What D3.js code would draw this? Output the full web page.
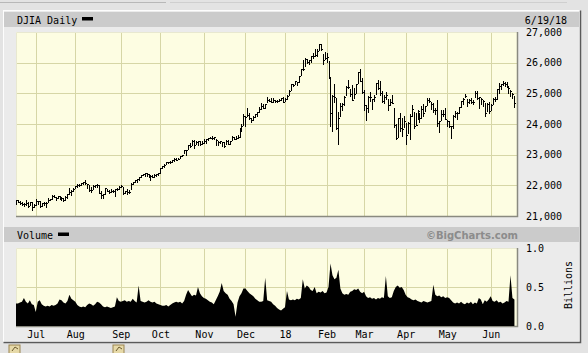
<!DOCTYPE html>
<html><head><meta charset="utf-8">
<script src="https://cdn.jsdelivr.net/npm/d3@7/dist/d3.min.js"></script>
<style>
html,body{margin:0;padding:0;background:#e3e3e3;}
svg{display:block;}
text{font-family:"DejaVu Sans Mono",monospace;font-size:10px;fill:#000;}
</style></head>
<body>
<svg id="c" width="588" height="353"></svg>
<script>
// ---- DATA ----
const monthLabels = ["Jul","Aug","Sep","Oct","Nov","Dec","18","Feb","Mar","Apr","May","Jun"];
const monthStart  = [10,30,53,73,95,116,136,157,176,197,218,240]; // trading-day index of month start
const priceTicks  = [21000,22000,23000,24000,25000,26000,27000];
const volTicks    = [0,0.5,1.0];

const close = [
 21528,21467,21410,21397,21395,21409,21311,21454,21288,21350,
 21479,21478,21320,21414,21409,21409,21532,21553,21638,21630,21575,21641,21612,21580,21513,21613,21711,21796,21830,21891,
 21964,22016,22026,22092,22118,22085,22048,21844,21858,21993,21999,22025,21750,21675,21703,21899,21812,21783,21814,21808,21865,21892,21948,
 21988,21753,21807,21784,21798,22057,22118,22158,22203,22268,22331,22370,22412,22359,22349,22296,22284,22340,22381,22405,
 22557,22641,22661,22775,22773,22761,22830,22872,22841,22871,22957,22997,23158,23163,23329,23274,23441,23329,23400,23434,23348,23377,
 23436,23516,23539,23548,23557,23563,23462,23422,23439,23409,23271,23458,23358,23430,23590,23526,23558,23580,23836,23940,24272,
 24231,24290,24180,24140,24212,24329,24386,24504,24585,24509,24652,24792,24754,24726,24782,24754,24746,24774,24838,24719,
 24824,24922,25075,25296,25283,25386,25369,25575,25803,25792,26116,26017,26071,26214,26210,26252,26392,26617,26439,26076,26149,
 26186,25521,24346,24913,24893,23860,24191,24601,24640,24893,25200,25219,24965,24798,24963,25310,25709,25410,25029,
 24609,24538,24874,24884,24801,24895,25336,25179,25008,24759,24874,24947,24611,24727,24683,23958,23533,24203,23857,23849,24103,
 23644,24034,24264,24505,23933,23979,24408,24189,24483,24360,24573,24787,24748,24665,24463,24449,24025,24084,24322,24311,24163,
 24100,23925,23930,24263,24358,24361,24543,24740,24831,24900,24707,24768,24714,24715,25013,24834,24887,24811,24753,24362,24668,24416,
 24635,24814,24800,25146,25242,25317,25322,25320,25201,25175,25090,24987,24700
];
const high = [
 21536,21536,21497,21445,21420,21535,21466,21463,21456,21398,
 21562,21498,21478,21438,21449,21450,21581,21560,21681,21681,21626,21651,21655,21592,21588,21657,21718,21929,21841,21914,
 21990,22036,22036,22092,22121,22179,22051,22015,21930,22000,22023,22047,22010,21810,21726,21908,21873,21860,21875,21845,21873,21918,21988,
 22009,21955,21818,21883,21848,22072,22120,22159,22205,22283,22348,22382,22413,22386,22360,22337,22350,22379,22382,22418,
 22557,22641,22685,22776,22774,22806,22831,22887,22905,22882,22958,23002,23167,23164,23329,23368,23485,23463,23442,23453,23431,23435,
 23500,23521,23557,23565,23602,23564,23524,23442,23448,23410,23403,23487,23475,23446,23605,23590,23602,23638,23870,24008,24327,
 24272,24534,24355,24188,24273,24330,24390,24552,24671,24640,24668,24876,24817,24840,24840,24791,24778,24800,24850,24871,
 24864,24942,25105,25299,25311,25404,25384,25578,25804,26086,26154,26117,26072,26215,26310,26458,26458,26617,26609,26278,26339,
 26306,26062,25520,24946,25295,24852,24382,24691,24685,24924,25232,25432,25133,25273,25176,25317,25710,25800,25505,
 25094,24621,24926,25052,24830,24938,25336,25450,25402,25070,24948,25050,24818,24811,24952,24528,24000,24203,24375,24205,24268,
 24031,24077,24311,24623,24407,24350,24458,24357,24573,24643,24593,24858,24857,24705,24688,24535,24783,24084,24453,24444,24536,
 24136,24105,23935,24280,24408,24400,24552,24740,24834,24966,24803,24813,24864,24778,25086,25080,24895,24858,24784,24696,24680,24706,
 24657,24835,24889,25146,25326,25317,25403,25379,25370,25243,25098,25019,24923
];
const low = [
 21384,21467,21378,21367,21337,21367,21295,21355,21197,21286,
 21350,21405,21278,21324,21366,21303,21452,21508,21544,21607,21512,21577,21557,21522,21486,21520,21596,21714,21694,21813,
 21926,21939,21964,22002,22058,22045,21920,21820,21796,21896,21940,21960,21749,21600,21600,21733,21801,21762,21778,21771,21640,21843,21893,
 21948,21708,21750,21733,21750,21893,22037,22095,22114,22184,22271,22331,22292,22313,22272,22178,22262,22280,22308,22346,
 22407,22563,22606,22682,22742,22740,22777,22789,22832,22850,22880,22946,23065,22985,23188,23259,23305,23230,23337,23306,23318,23363,
 23396,23390,23493,23533,23507,23506,23312,23318,23366,23290,23242,23336,23349,23337,23479,23503,23525,23528,23579,23784,23972,
 23922,24259,24147,24080,24133,24224,24271,24394,24500,24509,24530,24726,24745,24720,24726,24726,24715,24735,24792,24719,
 24741,24824,24931,25106,25236,25292,25258,25361,25606,25776,25896,25979,25942,26023,26142,26220,26229,26404,26426,25953,26131,
 26012,25490,23923,23778,24717,23849,23360,24264,24453,24635,24951,25177,24927,24797,24848,25024,25322,25396,25020,
 24444,24119,24400,24765,24503,24765,24971,25147,24937,24714,24683,24811,24450,24625,24675,23904,23509,23585,23772,23597,23889,
 23344,23700,23523,24261,23861,23974,24150,24073,24211,24254,24434,24621,24720,24502,24388,24316,23937,23723,24129,24258,24161,
 23938,23915,23531,23862,24220,24176,24375,24543,24655,24888,24597,24678,24690,24658,24869,24804,24536,24644,24575,24251,24410,24362,
 24448,24655,24747,24805,25020,25147,25283,25248,25201,25006,24923,24852,24567
];
const volume = [
 0.29,0.29,0.30,0.31,0.36,0.31,0.29,0.33,0.28,0.27,
 0.18,0.31,0.33,0.28,0.26,0.25,0.26,0.25,0.27,0.26,0.27,0.29,0.34,0.33,0.30,0.29,0.32,0.40,0.35,0.33,
 0.31,0.27,0.25,0.24,0.25,0.24,0.27,0.29,0.28,0.26,0.28,0.31,0.30,0.28,0.25,0.24,0.25,0.24,0.23,0.24,0.25,0.37,0.32,
 0.31,0.32,0.33,0.31,0.32,0.31,0.35,0.32,0.30,0.52,0.32,0.31,0.30,0.31,0.33,0.31,0.30,0.31,0.29,0.28,
 0.27,0.26,0.26,0.27,0.25,0.27,0.29,0.30,0.31,0.30,0.31,0.29,0.32,0.40,0.46,0.42,0.38,0.40,0.39,0.50,0.42,0.38,
 0.36,0.35,0.33,0.31,0.30,0.28,0.33,0.38,0.44,0.55,0.45,0.42,0.40,0.35,0.32,0.28,0.12,0.30,0.38,0.42,0.48,
 0.48,0.45,0.42,0.40,0.38,0.35,0.33,0.31,0.31,0.32,0.62,0.33,0.32,0.31,0.28,0.26,0.23,0.21,0.20,0.22,
 0.24,0.45,0.34,0.33,0.34,0.33,0.35,0.34,0.36,0.60,0.48,0.52,0.50,0.46,0.45,0.50,0.42,0.44,0.43,0.45,0.42,
 0.43,0.50,0.80,0.65,0.60,0.62,0.72,0.48,0.42,0.40,0.41,0.40,0.44,0.45,0.47,0.46,0.48,0.44,0.42,
 0.44,0.38,0.36,0.37,0.35,0.36,0.34,0.36,0.35,0.37,0.36,0.64,0.38,0.36,0.37,0.45,0.50,0.52,0.49,0.50,0.46,
 0.40,0.37,0.36,0.34,0.33,0.34,0.32,0.31,0.30,0.32,0.31,0.30,0.31,0.32,0.53,0.40,0.38,0.39,0.37,0.38,0.36,
 0.37,0.36,0.33,0.30,0.29,0.30,0.29,0.31,0.29,0.28,0.30,0.29,0.31,0.28,0.30,0.29,0.36,0.34,0.28,0.33,0.31,0.34,
 0.38,0.32,0.31,0.33,0.30,0.31,0.29,0.30,0.32,0.31,0.65,0.36,0.34
];

// ---- LAYOUT ----
const svg = d3.select("#c");
const L = 16, R = 517, PT = 32, PB = 216, VT = 248, VB = 326;
const x  = d3.scaleLinear().domain([0, 253.3]).range([L, R]);
const y  = d3.scaleLinear().domain([21000, 27000]).range([PB, PT]);
const vy = d3.scaleLinear().domain([0, 1]).range([VB, VT]);
const gridC = "#d6d6a6", plotBg = "#fdfde2";

// top decorations
svg.append("line").attr("x1",0).attr("x2",166).attr("y1",2.5).attr("y2",2.5).attr("stroke","#b8b8b8");
svg.append("line").attr("x1",170).attr("x2",567).attr("y1",2.5).attr("y2",2.5).attr("stroke","#cfcfcf");

// frame
svg.append("rect").attr("x",3.5).attr("y",10.5).attr("width",576).attr("height",331)
  .attr("fill","#ebebeb").attr("stroke","#fdfdfd");
svg.append("path").attr("d","M580.5,10.5V342.5H3.5").attr("fill","none").attr("stroke","#5a5a5a").attr("stroke-width",1.5);

// header bars
svg.append("rect").attr("x",4).attr("y",12).attr("width",575).attr("height",15).attr("fill","#cbcbcb");
svg.append("rect").attr("x",4).attr("y",227).attr("width",575).attr("height",15).attr("fill","#cbcbcb");

svg.append("text").attr("x",17).attr("y",23.5).text("DJIA Daily");
svg.append("rect").attr("x",82).attr("y",17).attr("width",11).attr("height",3.5).attr("fill","#000");
svg.append("text").attr("x",567).attr("y",23.5).attr("text-anchor","end").text("6/19/18");

svg.append("text").attr("x",17).attr("y",238.5).text("Volume");
svg.append("rect").attr("x",58).attr("y",232.5).attr("width",11).attr("height",3.5).attr("fill","#000");
svg.append("text").attr("x",518).attr("y",238.5).attr("text-anchor","end")
  .style("font-family","'DejaVu Sans',sans-serif").style("font-weight","bold").style("font-size","10px")
  .style("fill","#8c8c8c").text("\u00A9BigCharts.com");

// plot backgrounds
[[PT,PB],[VT,VB]].forEach(([t,b])=>{
  svg.append("rect").attr("x",L).attr("y",t).attr("width",R-L).attr("height",b-t).attr("fill",plotBg);
});

// grids
const gP = svg.append("g").attr("stroke",gridC).attr("shape-rendering","crispEdges");
monthStart.forEach(m=>{
  const xx = Math.round(x(m))+0.5;
  gP.append("line").attr("x1",xx).attr("x2",xx).attr("y1",PT).attr("y2",PB);
  gP.append("line").attr("x1",xx).attr("x2",xx).attr("y1",VT).attr("y2",VB);
});
priceTicks.slice(1,-1).forEach(v=>{
  const yy = Math.round(y(v))+0.5;
  gP.append("line").attr("x1",L).attr("x2",R).attr("y1",yy).attr("y2",yy);
});
{ const yy = Math.round(vy(0.5))+0.5;
  gP.append("line").attr("x1",L).attr("x2",R).attr("y1",yy).attr("y2",yy); }

// plot borders
[[PT,PB],[VT,VB]].forEach(([t,b])=>{
  svg.append("path").attr("d",`M${L+0.5},${b}V${t+0.5}H${R}`).attr("fill","none").attr("stroke","#e8e8d0");
  svg.append("path").attr("d",`M${L},${b+0.5}H${R+0.5}V${t}`).attr("fill","none").attr("stroke","#8a8a80").attr("stroke-width",1.5);
});

// price HLC bars
const bars = svg.append("g").attr("stroke","#000").attr("shape-rendering","crispEdges");
close.forEach((c,i)=>{
  const xx = Math.round(x(i))+0.5;
  bars.append("line").attr("x1",xx).attr("x2",xx).attr("y1",y(high[i])).attr("y2",y(low[i])+1);
  const yc = Math.round(y(c))+0.5;
  bars.append("line").attr("x1",xx).attr("x2",xx+1.5).attr("y1",yc).attr("y2",yc);
});

// volume area
const area = d3.area().x((d,i)=>x(i)).y0(VB).y1(d=>vy(d));
svg.append("path").datum(volume).attr("d",area).attr("fill","#000");

// axes
const ya = svg.append("g").attr("transform",`translate(${R},0)`)
  .call(d3.axisRight(y).tickValues(priceTicks).tickFormat(d3.format(",")).tickSize(0).tickPadding(9));
const va = svg.append("g").attr("transform",`translate(${R},0)`)
  .call(d3.axisRight(vy).tickValues(volTicks).tickFormat(d3.format(".1f")).tickSize(0).tickPadding(9));
const xa = svg.append("g").attr("transform",`translate(0,${VB})`)
  .call(d3.axisBottom(x).tickValues(monthStart).tickFormat((d,i)=>monthLabels[i]).tickSize(0).tickPadding(5));
[ya,va,xa].forEach(g=>{
  g.select(".domain").remove();
  g.selectAll("text").style("font-family","'DejaVu Sans Mono',monospace").style("font-size","10px").attr("fill","#000");
});

svg.append("text").attr("transform","translate(572,285) rotate(-90)").attr("text-anchor","middle").text("Billions");

// bottom icons
[[9,345],[113,345]].forEach(([ix,iy])=>{
  svg.append("rect").attr("x",ix).attr("y",iy).attr("width",11).attr("height",9).attr("fill","#e6d9a8").attr("stroke","#9b8550");
  svg.append("path").attr("d",`M${ix+3},${iy+6}l3,-4l3,2`).attr("fill","none").attr("stroke","#6b5a30");
});
</script>
</body></html>
